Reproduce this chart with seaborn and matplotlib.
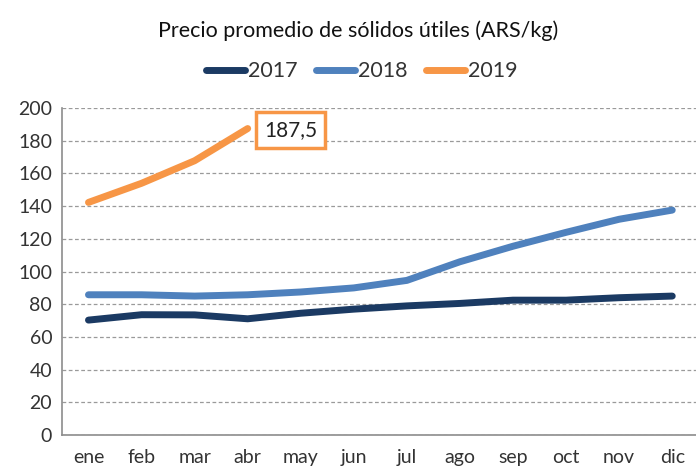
import pandas as pd
import numpy as np
import seaborn as sns
import matplotlib.pyplot as plt

meses = ['ene', 'feb', 'mar', 'abr', 'may', 'jun', 'jul', 'ago', 'sep', 'oct', 'nov', 'dic']
v2017 = [70.3, 73.6, 73.5, 71.1, 74.5, 77.0, 79.0, 80.5, 82.5, 82.5, 84.0, 85.0]
v2018 = [85.8, 85.8, 85.0, 85.8, 87.5, 90.0, 94.6, 106.0, 115.5, 124.0, 132.0, 137.6]
v2019 = [142.3, 154.0, 167.8, 187.5]
colores = {'2017': '#1b3a63', '2018': '#4f81bd', '2019': '#f79646'}

rows = []
for anio, vals in [('2017', v2017), ('2018', v2018), ('2019', v2019)]:
    for i, v in enumerate(vals):
        rows.append({'mes': i, 'valor': v, 'anio': anio})
df = pd.DataFrame(rows)

sns.set_style('white')
plt.rcParams['font.family'] = ['Lato', 'DejaVu Sans']

fig = plt.figure(figsize=(6.96, 4.68), dpi=100)
ax = fig.add_axes([0.089, 0.0705, 0.915, 0.6985])

sns.lineplot(data=df, x='mes', y='valor', hue='anio', palette=colores,
             linewidth=5, ax=ax, legend=False, solid_capstyle='round')

ax.set_xlim(-0.5, 11.5)
ax.set_ylim(0, 200)
ax.set_yticks(np.arange(0, 201, 20))
ax.yaxis.grid(True, linestyle=(0, (3, 2)), color='#9a9a9a', linewidth=0.9)
ax.set_axisbelow(True)
ax.set_xticks(range(12))
ax.set_xticklabels(meses)
ax.set_xticks(np.arange(-0.5, 12, 1), minor=True)
ax.tick_params(axis='x', which='major', length=0, pad=10, labelsize=14, labelcolor='#333333')
ax.tick_params(axis='x', which='minor', length=5, color='#8c8c8c', width=1)
ax.tick_params(axis='y', length=4, color='#8c8c8c', width=1, labelsize=14, labelcolor='#333333', pad=3)
for s in ['top', 'right']:
    ax.spines[s].set_visible(False)
for s in ['left', 'bottom']:
    ax.spines[s].set_color('#8c8c8c')
    ax.spines[s].set_linewidth(1.2)
ax.set_xlabel('')
ax.set_ylabel('')

ax.annotate('187,5', xy=(3, v2019[-1]), xytext=(12, -1), textcoords='offset points',
            ha='left', va='center', fontsize=15, color='#222222',
            bbox=dict(boxstyle='square,pad=0.38', fc='white', ec='#f79646', lw=2.5))

handles = [plt.Line2D([], [], color=colores[k], lw=5, solid_capstyle='round') for k in colores]
fig.legend(handles, list(colores.keys()), loc='center', bbox_to_anchor=(0.52, 0.848), ncol=3,
           frameon=False, handlelength=1.8, handletextpad=0.15, columnspacing=0.85,
           labelcolor='#333333', prop={'size': 15.5})

fig.text(0.515, 0.935, 'Precio promedio de sólidos útiles (ARS/kg)', ha='center', va='center',
         fontsize=15.5, color='#111111')

fig.savefig('out.png', dpi=100)
